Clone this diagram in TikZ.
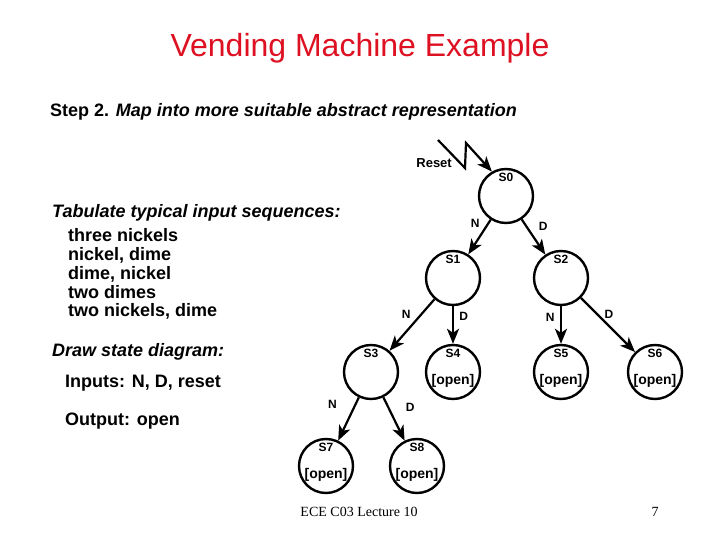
\documentclass[tikz,border=0pt]{standalone}
\usepackage{fontspec}
\setmainfont{Liberation Sans}
\newfontfamily\footfont{Liberation Serif}
\usetikzlibrary{positioning, arrows.meta}
\definecolor{titlered}{RGB}{221,17,34}

\begin{document}
\begin{tikzpicture}[x=1pt, y=-1pt,
                    state/.style={circle, draw=black, line width=2.4pt, minimum size=54pt, inner sep=0pt},
                    sname/.style={label={[label distance=-17.5pt, font=\fontsize{12}{12}\selectfont\bfseries]north:#1}},
                    opened/.style={label={[yshift=-8.5pt, font=\fontsize{14}{14}\selectfont\bfseries]center:{[open]}}},
                    link/.style={-{Stealth[length=15pt, width=12pt, inset=4pt]}, line width=2.2pt},
                    inlabel/.style={font=\fontsize{12}{12}\selectfont\bfseries},
                    body/.style={anchor=base west, inner sep=0pt, font=\fontsize{18}{18}\selectfont\bfseries},
                    seq/.style={anchor=north west, inner sep=0pt, text height=13pt, text depth=5.3pt, font=\fontsize{18}{18}\selectfont\bfseries}]
            \useasboundingbox (0,0) rectangle (720,540);

            % Title and text
            \node[anchor=base, inner sep=0pt, text=titlered, font=\fontsize{32}{32}\selectfont] (title) at (360,56.7) {Vending Machine Example};
            \node[body] (step) at (50,117) {Step 2. \textit{Map into more suitable abstract representation}};
            \node[body] (tab) at (52,217.7) {\textit{Tabulate typical input sequences:}};
            \node[seq] (q1) at (68,228.7) {three nickels};
            \node[seq] (q2) at (q1.south west) {nickel, dime};
            \node[seq] (q3) at (q2.south west) {dime, nickel};
            \node[seq] (q4) at (q3.south west) {two dimes};
            \node[seq] (q5) at (q4.south west) {two nickels, dime};
            \node[body] (drawit) at (52,356) {\textit{Draw state diagram:}};
            \node[body] (inputs) at (65,387.7) {Inputs: N, D, reset};
            \node[body] (output) at (65,425) {Output: open};

            % States
            \node[state, sname=S0] (s0) at (506,196) {};
            \node[state, sname=S1] (s1) at (453,278) {};
            \node[state, sname=S2] (s2) at (561,278) {};
            \node[state, sname=S3] (s3) at (371,372) {};
            \node[state, sname=S4, opened] (s4) at (453,372) {};
            \node[state, sname=S5, opened] (s5) at (561,372) {};
            \node[state, sname=S6, opened] (s6) at (655,372) {};
            \node[state, sname=S7, opened] (s7) at (326,466) {};
            \node[state, sname=S8, opened] (s8) at (417,466) {};

            % Reset
            \coordinate (z1) at (438,140);
            \coordinate (z2) at (465,168);
            \coordinate (z3) at (466,143);
            \node[anchor=base east, inner sep=0pt, font=\fontsize{13}{13}\selectfont\bfseries] (reset) at (452,168) {Reset};
            \draw[link] (z1) -- (z2) -- (z3) -- (s0.120);

            % Transitions
            \draw[link] (s0) -- node[inlabel, pos=0.12, left=4pt]{N} (s1);
            \draw[link] (s0) -- node[inlabel, pos=0.2, right=8pt]{D} (s2);
            \draw[link] (s1) -- node[inlabel, pos=0.3, left=6pt]{N} (s3);
            \draw[link] (s1) -- node[inlabel, pos=0.27, right=2pt]{D} (s4);
            \draw[link] (s2) -- node[inlabel, pos=0.3, left=2pt]{N} (s5);
            \draw[link] (s2) -- node[inlabel, pos=0.3, right=3pt]{D} (s6);
            \draw[link] (s3) -- node[inlabel, pos=0.17, left=14pt]{N} (s7);
            \draw[link] (s3) -- node[inlabel, pos=0.24, right=13pt]{D} (s8);

            % Footer
            \node[anchor=base, inner sep=0pt, font=\footfont\fontsize{14}{14}\selectfont] (foot) at (359,516) {ECE C03 Lecture 10};
            \node[anchor=base, inner sep=0pt, font=\footfont\fontsize{14}{14}\selectfont] (page) at (655,516) {7};
\end{tikzpicture}
\end{document}
